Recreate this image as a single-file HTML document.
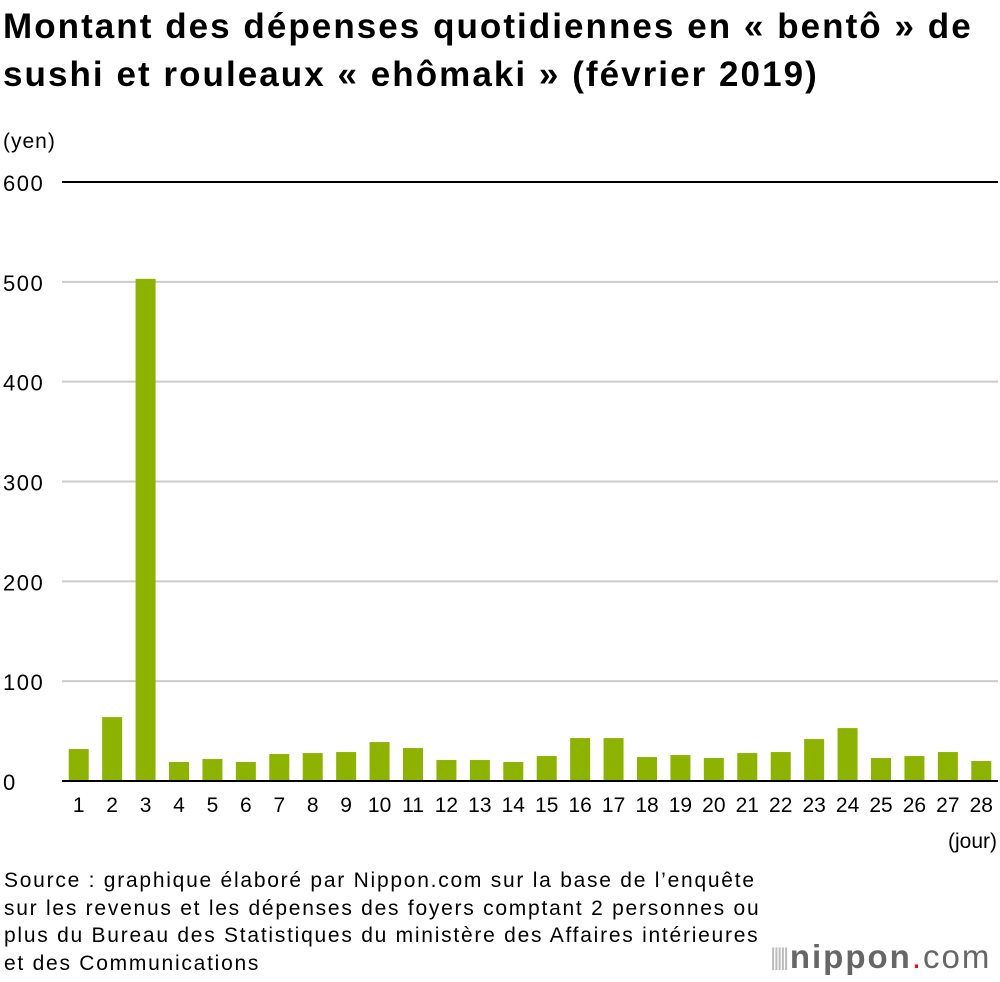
<!DOCTYPE html>
<html><head><meta charset="utf-8"><style>
body{margin:0;width:1000px;height:982px;background:#fff;font-family:"Liberation Sans",sans-serif;overflow:hidden;position:relative}
.t{position:absolute;left:3px;top:3px;font-size:35px;font-weight:bold;line-height:48px;color:#000;letter-spacing:2.05px;white-space:nowrap}
.src{position:absolute;left:4px;top:867px;font-size:21px;line-height:27.5px;color:#000;letter-spacing:1.75px;white-space:nowrap}
</style></head><body>
<div class="t">Montant des dépenses quotidiennes en « bentô » de<br>sushi et rouleaux « ehômaki » (février 2019)</div>
<svg id="c" width="1000" height="860" style="position:absolute;left:0;top:0"></svg>
<div class="src">Source : graphique élaboré par Nippon.com sur la base de l’enquête<br>sur les revenus et les dépenses des foyers comptant 2 personnes ou<br>plus du Bureau des Statistiques du ministère des Affaires intérieures<br>et des Communications</div>
<div style="position:absolute;left:770px;top:938px;font-size:33px;color:#666;letter-spacing:2px;white-space:nowrap"><span style="color:#bbb;font-size:24px;letter-spacing:-3px;vertical-align:3px">||||| </span><b>nippon</b><span style="color:#e11">.</span>com</div>
<script>
const days=[1,2,3,4,5,6,7,8,9,10,11,12,13,14,15,16,17,18,19,20,21,22,23,24,25,26,27,28];
const values=[32,64,503,19,22,19,27,28,29,39,33,21,21,19,25,43,43,24,26,23,28,29,42,53,23,25,29,20];
const yTicks=[0,100,200,300,400,500,600];
const NS="http://www.w3.org/2000/svg",svg=document.getElementById('c');
const x0=62,x1=998,y0=781,y1=182;
const y=v=>y0-(v/600)*(y0-y1);
const step=(x1-x0)/days.length;
const xc=i=>x0+step*(i+0.5);
function mk(t,a){const e=document.createElementNS(NS,t);for(const k in a)e.setAttribute(k,a[k]);svg.appendChild(e);return e;}
yTicks.forEach(v=>{
 if(v>0){const l=mk('line',{x1:x0,x2:x1,y1:y(v),y2:y(v),stroke:v==600?'#000':'#ccc','stroke-width':2});
 
 }
 const t=mk('text',{x:3,y:y(v)+9,'font-size':22,'letter-spacing':1.5,fill:'#000'});t.textContent=v;
 
 
});
const u=mk('text',{x:3,y:148,'font-size':21,'letter-spacing':1});u.textContent='(yen)';


values.forEach((v,i)=>{
 const r=mk('rect',{x:xc(i)-10,y:y(v),width:20,height:y0-y(v),fill:'#8db300'});
 
 
 const t=mk('text',{x:xc(i),y:812,'font-size':21,'text-anchor':'middle'});t.textContent=days[i];
 
 
});
const b=mk('line',{x1:x0,x2:x1,y1:y0,y2:y0,stroke:'#000','stroke-width':2});


const j=mk('text',{x:997,y:848,'font-size':21,'text-anchor':'end'});j.textContent='(jour)';


</script>
</body></html>
